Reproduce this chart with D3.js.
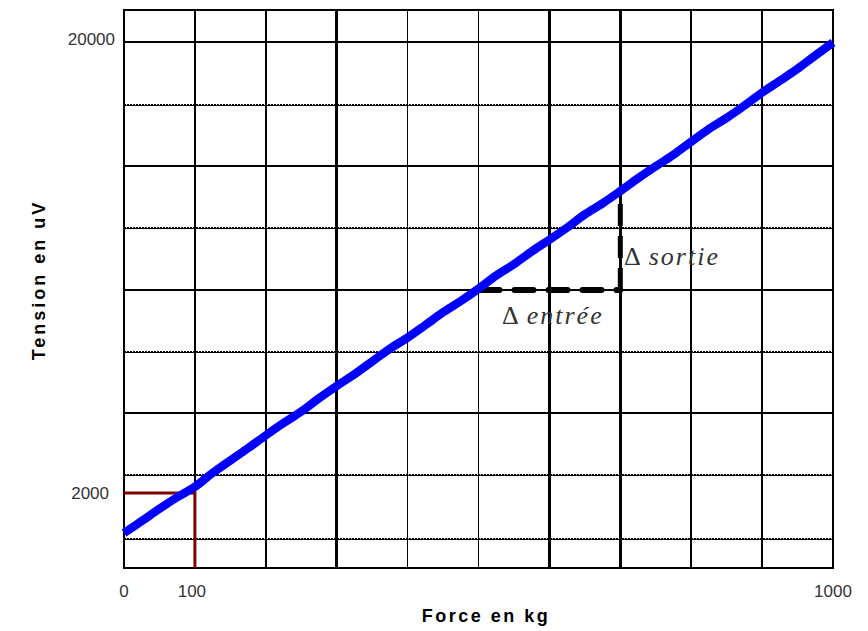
<!DOCTYPE html>
<html>
<head>
<meta charset="utf-8">
<script src="https://cdn.jsdelivr.net/npm/d3@7"></script>
<style>
  body { margin: 0; background: #ffffff; }
  svg { display: block; }
</style>
</head>
<body>
<svg></svg>
<script>
// data
var force = [0, 25, 50, 75, 100, 125, 150, 175, 200, 225, 250, 275, 300, 325, 350, 375, 400,
  425, 450, 475, 500, 525, 550, 575, 600, 625, 650, 675, 700, 725, 750, 775, 800, 825, 850,
  875, 900, 925, 950, 975, 1000];
var tension = [400, 880, 1370, 1830, 2250, 2800, 3300, 3790, 4300, 4790, 5250, 5780, 6270,
  6740, 7250, 7760, 8200, 8700, 9210, 9660, 10150, 10680, 11130, 11640, 12110, 12590, 13120,
  13560, 14050, 14560, 15040, 15500, 16020, 16530, 16970, 17460, 17980, 18450, 18930, 19460, 19980];

var xGrid = [100, 200, 300, 400, 500, 600, 700, 800, 900];
var xGridWidth = [2, 2, 3, 1.5, 1.5, 2.5, 3, 1.5, 1.5];
var ySolid = [20000, 15050, 10100, 5190];
var yDotted = [17490, 12580, 7630, 2720, 160];
var xTicks = [0, 100, 1000];
var yTicks = [2000, 20000];
var xMin = 0, xMax = 1000, yMin = -990, yMax = 21280;

// marker at 100 kg / 2000 uV and the delta triangle
var mark = {x: 100, y: 2000};
var deltaX = [500, 700];
var deltaY = [10100, 14010];

var svgWidth = 868, svgHeight = 631;
var svg = d3.select('svg')
    .attr("width", svgWidth)
    .attr("height", svgHeight);

var x = d3.scaleLinear().domain([xMin, xMax]).range([124, 833]);
var y = d3.scaleLinear().domain([2000, 20000]).range([493, 42]);

// grid
svg.append("g").attr("shape-rendering", "crispEdges")
  .selectAll("line").data(xGrid).join("line")
    .attr("x1", d => x(d)).attr("x2", d => x(d))
    .attr("y1", y(yMin)).attr("y2", y(yMax))
    .attr("stroke", "#000").attr("stroke-width", (d, i) => xGridWidth[i]);

svg.append("g").attr("shape-rendering", "crispEdges")
  .selectAll("line").data(ySolid).join("line")
    .attr("x1", x(xMin)).attr("x2", x(xMax))
    .attr("y1", d => y(d)).attr("y2", d => y(d))
    .attr("stroke", "#000").attr("stroke-width", 2);

var dots = svg.append("g").attr("shape-rendering", "crispEdges");
dots.selectAll("line.base").data(yDotted).join("line")
    .attr("class", "base")
    .attr("x1", x(xMin)).attr("x2", x(xMax))
    .attr("y1", d => Math.round(y(d)) + 0.5).attr("y2", d => Math.round(y(d)) + 0.5)
    .attr("stroke", "#000").attr("stroke-width", 1);
dots.selectAll("line.dot").data(yDotted).join("line")
    .attr("class", "dot")
    .attr("x1", x(xMin)).attr("x2", x(xMax))
    .attr("y1", d => Math.round(y(d)) - 0.5).attr("y2", d => Math.round(y(d)) - 0.5)
    .attr("stroke", "#000").attr("stroke-width", 1)
    .attr("stroke-dasharray", "2,1");

// frame
svg.append("rect")
    .attr("shape-rendering", "crispEdges")
    .attr("x", x(xMin)).attr("y", y(yMax))
    .attr("width", x(xMax) - x(xMin)).attr("height", y(yMin) - y(yMax))
    .attr("fill", "none").attr("stroke", "#000").attr("stroke-width", 2);

// dark red marker
svg.append("path")
    .attr("d", "M" + x(xMin) + "," + y(mark.y) + "H" + x(mark.x) + "V" + y(yMin))
    .attr("fill", "none").attr("stroke", "#7f0000").attr("stroke-width", 3);

// delta lines
svg.append("line")
    .attr("x1", x(deltaX[0]) + 2).attr("x2", x(deltaX[1]))
    .attr("y1", y(deltaY[0])).attr("y2", y(deltaY[0]))
    .attr("stroke", "#000").attr("stroke-width", 6)
    .attr("stroke-linecap", "round")
    .attr("stroke-dasharray", "19,15");
svg.append("line")
    .attr("x1", x(deltaX[1])).attr("x2", x(deltaX[1]))
    .attr("y1", y(deltaY[0])).attr("y2", y(deltaY[1]) + 3)
    .attr("stroke", "#000").attr("stroke-width", 5)
    .attr("stroke-dasharray", "22,10");

// the curve
var line = d3.line()
    .x((d, i) => x(force[i]))
    .y(d => y(d))
    .curve(d3.curveCatmullRom);

svg.append("path")
    .datum(tension)
    .attr("d", line)
    .attr("fill", "none")
    .attr("stroke", "#0000ff")
    .attr("stroke-width", 8.5);

// tick labels
svg.append("g").selectAll("text").data(xTicks).join("text")
    .attr("x", d => x(d) - (d == 100 ? 3 : 0)).attr("y", 597)
    .attr("text-anchor", "middle")
    .attr("font-family", "'Liberation Sans', Arial, sans-serif")
    .attr("font-size", 17).attr("fill", "#333")
    .text(d => d);

svg.append("g").selectAll("text").data(yTicks).join("text")
    .attr("x", d => d == 20000 ? 115 : 109).attr("y", d => y(d) + (d == 20000 ? 3 : 6))
    .attr("text-anchor", "end")
    .attr("font-family", "'Liberation Sans', Arial, sans-serif")
    .attr("font-size", 17).attr("fill", "#333")
    .text(d => d);

// axis titles
svg.append("text")
    .attr("x", 486).attr("y", 622)
    .attr("text-anchor", "middle")
    .attr("font-family", "'Liberation Sans', Arial, sans-serif")
    .attr("font-size", 18).attr("font-weight", "bold")
    .attr("letter-spacing", 2.5)
    .text("Force en kg");

svg.append("text")
    .attr("transform", "translate(45,280) rotate(-90)")
    .attr("text-anchor", "middle")
    .attr("font-family", "'Liberation Sans', Arial, sans-serif")
    .attr("font-size", 18).attr("font-weight", "bold")
    .attr("letter-spacing", 3)
    .text("Tension en uV");

// delta labels
function deltaLabel(px, py, word) {
  var t = svg.append("text")
      .attr("x", px).attr("y", py)
      .attr("font-family", "'Liberation Serif', 'Times New Roman', serif")
      .attr("font-size", 26).attr("fill", "#333");
  t.append("tspan").text("\u0394");
  t.append("tspan").attr("dx", 8).attr("font-style", "italic")
      .attr("letter-spacing", 2).text(word);
}
deltaLabel(624, 265, "sortie");
deltaLabel(502, 324, "entrée");
</script>
</body>
</html>
